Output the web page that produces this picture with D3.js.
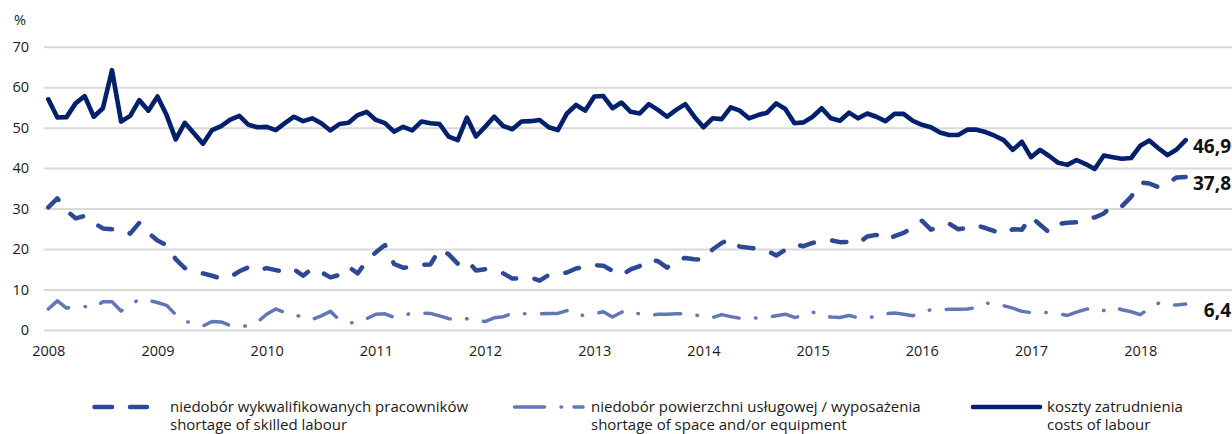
<!DOCTYPE html>
<html>
<head>
<meta charset="utf-8">
<script src="https://cdn.jsdelivr.net/npm/d3@7"></script>
<style>
  html, body { margin: 0; padding: 0; background: #fff; }
  svg { display: block; font-family: "Open Sans", "Noto Sans", sans-serif; }
</style>
</head>
<body>
<svg id="chart" width="1232" height="434"></svg>
<script>
// Monthly survey shares (%), January 2008 – June 2018
const yearLabels = ["2008", "2009", "2010", "2011", "2012", "2013", "2014", "2015", "2016", "2017", "2018"];
const yTicks = [0, 10, 20, 30, 40, 50, 60, 70];

// koszty zatrudnienia / costs of labour
const costsOfLabour = [
  57.0, 52.5, 52.6, 56.0, 57.8, 52.7, 54.8, 64.2, 51.5, 52.9, 56.8, 54.2,
  57.7, 53.1, 47.1, 51.2, 48.6, 46.0, 49.4, 50.4, 52.0, 52.9, 50.7, 50.1,
  50.2, 49.4, 51.1, 52.7, 51.6, 52.3, 51.1, 49.3, 50.9, 51.2, 53.1, 53.9,
  51.9, 51.1, 49.0, 50.2, 49.3, 51.5, 51.1, 50.9, 47.8, 46.9, 52.5, 47.8,
  50.2, 52.7, 50.4, 49.6, 51.5, 51.6, 51.9, 50.1, 49.4, 53.5, 55.6, 54.2,
  57.7, 57.8, 54.8, 56.2, 53.9, 53.5, 55.8, 54.4, 52.7, 54.4, 55.8, 52.7,
  50.1, 52.3, 52.1, 55.0, 54.2, 52.3, 53.1, 53.7, 56.0, 54.6, 51.1, 51.3,
  52.7, 54.8, 52.3, 51.7, 53.7, 52.3, 53.5, 52.7, 51.6, 53.4, 53.4, 51.7,
  50.7, 50.1, 48.8, 48.2, 48.2, 49.5, 49.5, 48.9, 48.0, 46.9, 44.5, 46.5,
  42.7, 44.5, 43.0, 41.3, 40.8, 42.0, 41.0, 39.8, 43.1, 42.7, 42.3, 42.5,
  45.5, 46.8, 44.9, 43.2, 44.6, 46.9
];

// niedobór wykwalifikowanych pracowników / shortage of skilled labour
const skilledLabour = [
  30.3, 32.5, 29.5, 27.6, 28.2, 26.5, 25.1, 24.9, 24.9, 23.8, 26.5, 24.0,
  22.1, 21.0, 17.5, 15.3, 14.7, 14.0, 13.4, 12.7, 13.1, 14.5, 15.5, 14.7,
  15.3, 14.8, 14.3, 15.0, 13.4, 15.2, 14.3, 13.0, 13.6, 15.6, 14.0, 17.1,
  19.2, 21.0, 16.3, 15.4, 15.6, 16.1, 16.2, 20.0, 18.7, 16.4, 17.3, 14.7,
  15.0, 14.5, 14.0, 12.7, 12.8, 13.0, 12.2, 13.6, 13.8, 14.2, 15.2, 15.6,
  16.0, 15.9, 14.6, 13.5, 15.0, 15.8, 17.5, 17.0, 15.4, 17.3, 17.8, 17.5,
  17.3, 19.9, 21.5, 22.5, 20.6, 20.3, 20.1, 19.6, 18.4, 19.8, 21.2, 20.7,
  21.5, 22.1, 22.2, 21.7, 21.8, 21.4, 23.1, 23.5, 22.2, 23.2, 24.0, 25.3,
  27.0, 24.8, 25.5, 26.3, 24.9, 25.2, 25.9, 25.2, 24.4, 23.8, 24.9, 24.8,
  28.0, 26.0, 24.1, 26.2, 26.5, 26.6, 27.6, 27.8, 28.8, 30.9, 30.6, 32.9,
  36.5, 36.2, 35.3, 36.2, 37.7, 37.8
];

// niedobór powierzchni usługowej / wyposażenia / shortage of space and/or equipment
const spaceEquipment = [
  5.2, 7.2, 5.4, 5.8, 5.8, 5.5, 7.0, 7.0, 4.7, 6.2, 7.6, 7.3,
  6.8, 6.1, 3.8, 2.1, 1.8, 1.0, 2.1, 2.0, 1.1, 0.9, 1.0, 2.0,
  3.9, 5.2, 4.3, 3.9, 3.0, 2.6, 3.5, 4.6, 2.5, 1.8, 1.8, 2.8,
  3.9, 4.0, 3.1, 3.7, 4.1, 4.2, 4.1, 3.5, 2.8, 2.5, 2.8, 2.5,
  2.1, 3.0, 3.3, 4.1, 4.0, 4.0, 4.0, 4.1, 4.1, 4.8, 3.5, 3.7,
  4.0, 4.5, 3.2, 4.4, 4.8, 3.9, 3.6, 3.9, 3.9, 4.0, 4.0, 3.8,
  3.2, 3.1, 3.8, 3.3, 2.9, 2.9, 3.0, 3.1, 3.5, 3.9, 3.1, 3.5,
  4.4, 3.8, 3.2, 3.1, 3.6, 3.0, 2.9, 3.5, 4.0, 4.2, 3.9, 3.5,
  4.5, 5.0, 5.0, 5.1, 5.1, 5.2, 5.5, 6.6, 6.6, 6.0, 5.4, 4.6,
  4.3, 4.4, 4.3, 4.0, 3.6, 4.4, 5.1, 5.5, 4.8, 5.7, 5.0, 4.5,
  3.8, 5.3, 6.6, 6.0, 6.2, 6.4
];

const seriesNamesPl = ["niedobór wykwalifikowanych pracowników", "niedobór powierzchni usługowej / wyposażenia", "koszty zatrudnienia"];
const seriesNamesEn = ["shortage of skilled labour", "shortage of space and/or equipment", "costs of labour"];
const lastValueLabels = ["37,8", "6,4", "46,9"];

// month categories "YYYY-MM", one per observation
const months = costsOfLabour.map((_, i) =>
  `${2008 + Math.floor(i / 12)}-${String(i % 12 + 1).padStart(2, "0")}`);

const W = 1232, H = 434;
const svg = d3.select("#chart");

const x = d3.scalePoint().domain(months).range([48.3, 1185.7]);
const y = d3.scaleLinear().domain([0, 70]).range([330, 46.7]);

const styles = [
  { color: "#2e4896", width: 4.5, dash: "14.5,18.5" },
  { color: "#6277b6", width: 3.5, dash: "26,16.5,0.5,16.5" },
  { color: "#03206c", width: 4.6, dash: null }
];
const series = [skilledLabour, spaceEquipment, costsOfLabour];

// horizontal gridlines + y tick labels
const gridLeft = 44;
const yAxis = svg.append("g")
  .attr("transform", `translate(${gridLeft},0)`)
  .call(d3.axisLeft(y).tickValues(yTicks).tickSize(-(W - gridLeft)).tickPadding(15));
yAxis.select(".domain").remove();
yAxis.selectAll(".tick line").attr("stroke", "#d9d9d9").attr("stroke-width", 2);
yAxis.selectAll(".tick text")
  .attr("fill", "#1a1a1a").style("font-size", "14.5px").style("font-family", "'Open Sans', sans-serif");

svg.append("text").attr("x", 14).attr("y", 25)
  .attr("fill", "#1a1a1a").style("font-size", "14.5px").text("%");

// x axis: year labels at each January
const januaries = months.filter(m => m.endsWith("-01"));
const xAxis = svg.append("g")
  .attr("transform", "translate(0,330)")
  .call(d3.axisBottom(x).tickValues(januaries).tickSize(0).tickPadding(16)
    .tickFormat((m, i) => yearLabels[i]));
xAxis.select(".domain").remove();
xAxis.selectAll(".tick text")
  .attr("fill", "#1a1a1a").style("font-size", "14.5px").style("font-family", "'Open Sans', sans-serif");

// series lines
const line = d3.line().x((d, i) => x(months[i])).y(d => y(d));
series.forEach((vals, k) => {
  const s = styles[k];
  svg.append("path")
    .datum(vals)
    .attr("d", line)
    .attr("fill", "none")
    .attr("stroke", s.color)
    .attr("stroke-width", s.width)
    .attr("stroke-linecap", "round")
    .attr("stroke-linejoin", "round")
    .attr("stroke-dasharray", s.dash);
});

// value labels for the latest month
series.forEach((vals, k) => {
  const v = vals[vals.length - 1];
  svg.append("text")
    .attr("x", 1231)
    .attr("y", y(v) + 6)
    .attr("dy", "0.35em")
    .attr("text-anchor", "end")
    .attr("fill", "#111")
    .style("font-size", "19px")
    .style("font-weight", "700")
    .text(lastValueLabels[k]);
});

// legend: two-line labels (Polish / English)
const legend = [
  { x0: 94.5, x1: 147, dash: "17.5,18", tx: 170 },
  { x0: 514.5, x1: 583, dash: "30,16.5,0.5,12.5", tx: 591 },
  { x0: 973, x1: 1040, dash: null, tx: 1047 }
];
legend.forEach((L, k) => {
  const s = styles[k];
  svg.append("line")
    .attr("x1", L.x0).attr("x2", L.x1).attr("y1", 407).attr("y2", 407)
    .attr("stroke", s.color).attr("stroke-width", s.width)
    .attr("stroke-linecap", "round")
    .attr("stroke-dasharray", L.dash);
  svg.append("text").attr("x", L.tx).attr("y", 411.5)
    .attr("fill", "#1a1a1a").style("font-size", "15px")
    .text(seriesNamesPl[k]);
  svg.append("text").attr("x", L.tx).attr("y", 430)
    .attr("fill", "#1a1a1a").style("font-size", "15px")
    .text(seriesNamesEn[k]);
});
</script>
</body>
</html>
